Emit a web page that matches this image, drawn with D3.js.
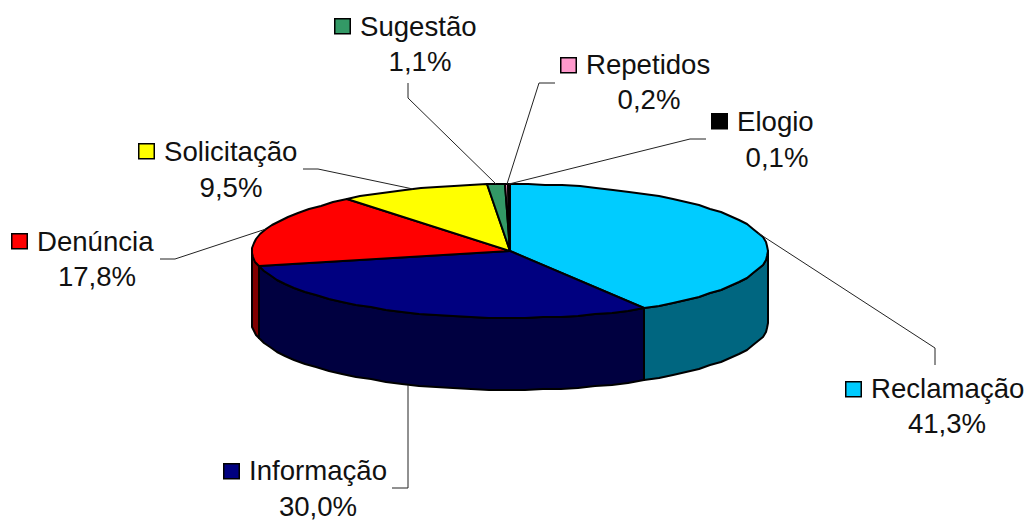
<!DOCTYPE html>
<html>
<head>
<meta charset="utf-8">
<script src="https://cdn.jsdelivr.net/npm/d3@7"></script>
<style>
    html, body { margin: 0; padding: 0; background: #fff; }
    svg { display: block; }
    text { font-family: "Liberation Sans", Arial, sans-serif; font-size: 27.6px; fill: #111; }
    .leader { fill: none; stroke: #222; stroke-width: 1; }
    .edge { stroke: #000; stroke-width: 2; stroke-linejoin: round; }
</style>
</head>
<body>
<svg id="chart" width="1025" height="521"></svg>
<script>
const categories = ['Reclamação', 'Informação', 'Denúncia', 'Solicitação', 'Sugestão', 'Repetidos', 'Elogio'];
const shares = [41.3, 30.0, 17.8, 9.5, 1.1, 0.2, 0.1];
const topColors = ['#00ccff', '#000080', '#ff0000', '#ffff00', '#339966', '#ff99cc', '#000000'];
const sideColors = ['#006680', '#000040', '#800000', '#808000', '#1a4d33', '#804d66', '#000000'];

// label placement, same order as categories
const labelX = [947, 318, 97, 231, 420, 649, 777];
const nameY = [398, 480, 251, 161, 36, 74, 131];
const percentY = [433, 516, 286, 197, 71, 109, 167];
const swatchX = [845, 223, 11, 138, 334, 560, 711];
const swatchY = [381, 463, 233, 143, 18, 57, 113];
// leader elbows, and the outer end after each elbow
const leaderElbows = [[935, 348], [408, 488], [175, 259], [318, 169], [408, 98], [539, 83], [690, 139]];
const leaderEnds = [[935, 365], [392, 488], [160, 259], [303, 169], [408, 83], [555, 83], [706, 139]];

const depth = 72;

const svg = d3.select('#chart');
const x = d3.scaleLinear().domain([-1, 1]).range([252, 768]);
const y = d3.scaleLinear().domain([-1, 1]).range([318, 184]);

const pie = d3.pie().sort(null).value(d => d);
const slices = pie(shares);

const line = d3.line().x(d => d[0]).y(d => d[1]);
const rim = (a, dy) => [Math.round(x(Math.sin(a))), Math.round(y(Math.cos(a))) + dy];

function arcPoints(a0, a1, dy) {
    // coarse steps on purpose, the original rim is a rough polygon
    let n = Math.max(1, Math.ceil((a1 - a0) / 0.07));
    return d3.range(n + 1).map(i => rim(a0 + (a1 - a0) * i / n, dy));
}

// side wall, only the front half of the disc shows
let right = Math.PI / 2, left = Math.PI * 1.5;
slices.forEach((s, i) => {
    let a0 = Math.max(s.startAngle, right), a1 = Math.min(s.endAngle, left);
    if (a1 <= a0) return;
    let pts = arcPoints(a0, a1, 0).concat(arcPoints(a0, a1, depth).reverse());
    svg.append('path').attr('class', 'edge')
        .attr('fill', sideColors[i])
        .attr('d', line(pts) + 'Z');
});

// top face
slices.forEach((s, i) => {
    let pts = [[x(0), y(0)]].concat(arcPoints(s.startAngle, s.endAngle, 0));
    svg.append('path').attr('class', 'edge')
        .attr('fill', topColors[i])
        .attr('d', line(pts) + 'Z');
});

// leaders start on the rim at each slice's middle
slices.forEach((s, i) => {
    let mid = (s.startAngle + s.endAngle) / 2;
    let start = rim(mid, mid > right && mid < left ? depth : 0);
    // keep the nearly vertical one straight
    if (Math.abs(start[0] - leaderElbows[i][0]) < 5) start[0] = leaderElbows[i][0];
    svg.append('path').attr('class', 'leader')
        .attr('d', line([start, leaderElbows[i], leaderEnds[i]]));
});

// labels
categories.forEach((c, i) => {
    svg.append('rect')
        .attr('x', swatchX[i] + 0.75).attr('y', swatchY[i] + 0.75)
        .attr('width', 15.5).attr('height', 15)
        .attr('fill', topColors[i]).attr('stroke', '#000').attr('stroke-width', 1.5);
    svg.append('text').attr('x', swatchX[i] + 26).attr('y', nameY[i]).text(c);
    svg.append('text').attr('x', labelX[i]).attr('y', percentY[i])
        .attr('text-anchor', 'middle')
        .text(d3.format('.1f')(shares[i]).replace('.', ',') + '%');
});
</script>
</body>
</html>
